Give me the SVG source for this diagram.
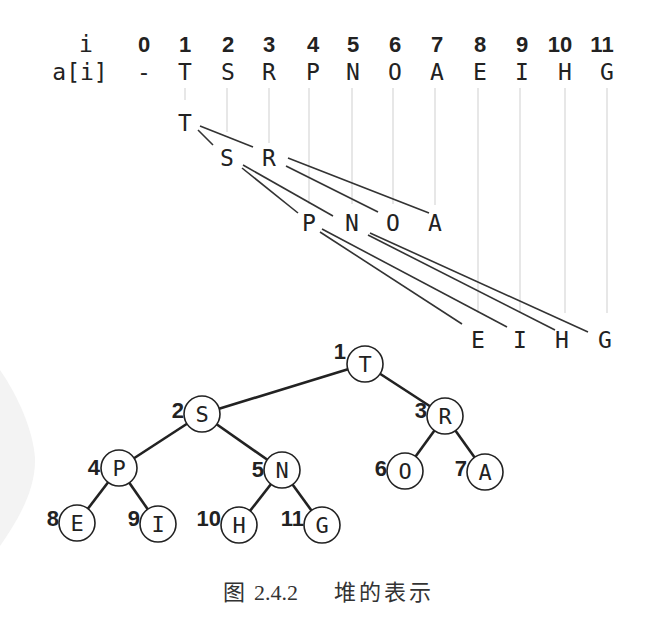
<svg xmlns="http://www.w3.org/2000/svg" width="657" height="642" viewBox="0 0 657 642">
<style>
.hd{font-family:"Liberation Sans","DejaVu Sans",sans-serif;font-weight:bold;font-size:22px;fill:#222;text-anchor:middle}
.lt{font-family:"DejaVu Sans Mono","Liberation Mono",monospace;font-size:23px;fill:#222;text-anchor:middle}
.vl{stroke:#cfcfcf;stroke-width:1;fill:none}
.cn{stroke:#333;stroke-width:1.6;fill:none}
.te{stroke:#222;stroke-width:2.6;fill:none}
.nd{fill:#fff;stroke:#222;stroke-width:1.6}
.nl{font-family:"DejaVu Sans Mono","Liberation Mono",monospace;font-size:22px;fill:#222;text-anchor:middle}
.nn{font-family:"Liberation Sans","DejaVu Sans",sans-serif;font-weight:bold;font-size:22px;fill:#222;text-anchor:end}
.cap{font-size:22px;fill:#333}
</style>
<rect width="657" height="642" fill="#fff"/>
<path d="M0,370 C18,396 33,430 35,458 C36,490 18,520 0,546 Z" fill="#f3f3f3"/>

<g id="array">
  <text class="lt" x="86" y="52">i</text>
  <text class="lt" x="80" y="80" font-size="22">a[i]</text>
  <g class="hd">
    <text x="144" y="52">0</text><text x="185" y="52">1</text><text x="228" y="52">2</text>
    <text x="269" y="52">3</text><text x="313" y="52">4</text><text x="353" y="52">5</text>
    <text x="395" y="52">6</text><text x="437" y="52">7</text><text x="480" y="52">8</text>
    <text x="522" y="52">9</text><text x="560" y="52">10</text><text x="602" y="52">11</text>
  </g>
  <g class="lt">
    <text x="144" y="80">-</text><text x="185" y="80">T</text><text x="228" y="80">S</text>
    <text x="269" y="80">R</text><text x="313" y="80">P</text><text x="353" y="80">N</text>
    <text x="395" y="80">O</text><text x="437" y="80">A</text><text x="480" y="80">E</text>
    <text x="522" y="80">I</text><text x="565" y="80">H</text><text x="607" y="80">G</text>
  </g>
</g>

<g id="guides">
  <line class="vl" x1="185" y1="88" x2="185" y2="100"/>
  <line class="vl" x1="227" y1="88" x2="227" y2="132"/>
  <line class="vl" x1="269" y1="88" x2="269" y2="143"/>
  <line class="vl" x1="309" y1="88" x2="309" y2="204"/>
  <line class="vl" x1="352" y1="88" x2="352" y2="204"/>
  <line class="vl" x1="393" y1="88" x2="393" y2="204"/>
  <line class="vl" x1="435" y1="88" x2="435" y2="205"/>
  <line class="vl" x1="478" y1="88" x2="478" y2="313"/>
  <line class="vl" x1="520" y1="88" x2="520" y2="313"/>
  <line class="vl" x1="565" y1="88" x2="565" y2="313"/>
  <line class="vl" x1="607" y1="88" x2="607" y2="313"/>
</g>

<g id="layout">
  <g class="lt">
    <text x="185" y="131">T</text>
    <text x="227" y="166">S</text><text x="269" y="166">R</text>
    <text x="309" y="231">P</text><text x="352" y="231">N</text>
    <text x="393" y="231">O</text><text x="435" y="231">A</text>
    <text x="478" y="348">E</text><text x="520" y="348">I</text>
    <text x="562" y="348">H</text><text x="605" y="348">G</text>
  </g>
</g>

<g id="layout-links">
  <line class="cn" x1="198" y1="130" x2="213" y2="145"/>
  <line class="cn" x1="200" y1="126" x2="253" y2="147"/>
  <line class="cn" x1="242" y1="168" x2="298" y2="213"/>
  <line class="cn" x1="243" y1="165" x2="333" y2="216"/>
  <line class="cn" x1="286" y1="166" x2="378" y2="212"/>
  <line class="cn" x1="288" y1="158" x2="429" y2="213"/>
  <line class="cn" x1="320" y1="232" x2="462" y2="324"/>
  <line class="cn" x1="322" y1="229" x2="507" y2="327"/>
  <line class="cn" x1="368" y1="235" x2="555" y2="330"/>
  <line class="cn" x1="370" y1="233" x2="588" y2="332"/>
</g>

<g id="tree-edges">
  <line class="te" x1="365" y1="364" x2="202" y2="414"/>
  <line class="te" x1="365" y1="364" x2="445" y2="416"/>
  <line class="te" x1="202" y1="414" x2="119" y2="468"/>
  <line class="te" x1="202" y1="414" x2="282" y2="470"/>
  <line class="te" x1="445" y1="416" x2="405" y2="471"/>
  <line class="te" x1="445" y1="416" x2="485" y2="472"/>
  <line class="te" x1="119" y1="468" x2="77" y2="523"/>
  <line class="te" x1="119" y1="468" x2="158" y2="524"/>
  <line class="te" x1="282" y1="470" x2="239" y2="525"/>
  <line class="te" x1="282" y1="470" x2="322" y2="525"/>
</g>

<g id="n1"><circle class="nd" cx="365" cy="364" r="18"/><text class="nl" x="365" y="372">T</text><text class="nn" x="346" y="359">1</text></g>
<g id="n2"><circle class="nd" cx="202" cy="414" r="18"/><text class="nl" x="202" y="422">S</text><text class="nn" x="184" y="418">2</text></g>
<g id="n3"><circle class="nd" cx="445" cy="416" r="18"/><text class="nl" x="445" y="424">R</text><text class="nn" x="427" y="418">3</text></g>
<g id="n4"><circle class="nd" cx="119" cy="468" r="18"/><text class="nl" x="119" y="476">P</text><text class="nn" x="100" y="475">4</text></g>
<g id="n5"><circle class="nd" cx="282" cy="470" r="18"/><text class="nl" x="282" y="478">N</text><text class="nn" x="264" y="477">5</text></g>
<g id="n6"><circle class="nd" cx="405" cy="471" r="18"/><text class="nl" x="405" y="479">O</text><text class="nn" x="387" y="476">6</text></g>
<g id="n7"><circle class="nd" cx="485" cy="472" r="18"/><text class="nl" x="485" y="480">A</text><text class="nn" x="467" y="476">7</text></g>
<g id="n8"><circle class="nd" cx="77" cy="523" r="18"/><text class="nl" x="77" y="531">E</text><text class="nn" x="59" y="526">8</text></g>
<g id="n9"><circle class="nd" cx="158" cy="524" r="18"/><text class="nl" x="158" y="532">I</text><text class="nn" x="140" y="526">9</text></g>
<g id="n10"><circle class="nd" cx="239" cy="525" r="18"/><text class="nl" x="239" y="533">H</text><text class="nn" x="221" y="526">10</text></g>
<g id="n11"><circle class="nd" cx="322" cy="525" r="18"/><text class="nl" x="322" y="533">G</text><text class="nn" x="304" y="526">11</text></g>

<g id="caption" class="cap">
  <text x="223" y="600" font-family="'Noto Sans CJK SC',sans-serif">图</text>
  <text x="254" y="600" font-family="'Liberation Serif',serif">2.4.2</text>
  <text x="334" y="600" font-family="'Noto Sans CJK SC',sans-serif" letter-spacing="3">堆的表示</text>
</g>
</svg>
